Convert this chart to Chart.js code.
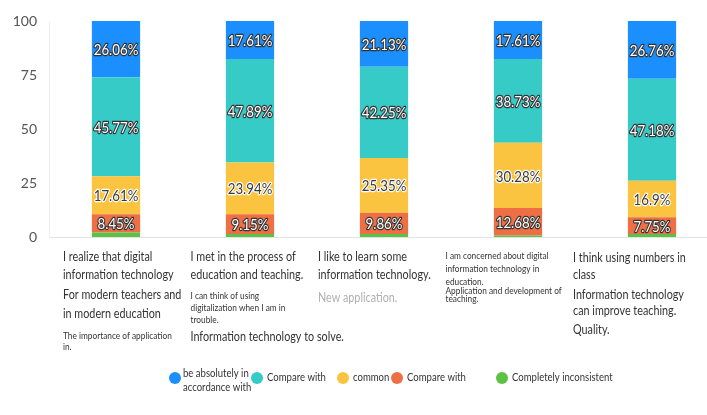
<!DOCTYPE html>
<html>
<head>
<meta charset="utf-8">
<script src="https://cdn.jsdelivr.net/npm/chart.js@4/dist/chart.umd.min.js"></script>
<style>
  html, body { margin: 0; padding: 0; background: #fff; }
  #wrap { width: 707px; height: 415px; overflow: hidden; }
  #inner { width: 719px; height: 415px; position: relative; }
</style>
</head>
<body>
<div id="wrap"><div id="inner"><canvas id="surveyChart"></canvas></div></div>
<script>
// survey answers, percent of respondents per statement
const categories = ['Q1', 'Q2', 'Q3', 'Q4', 'Q5'];
const fullyAgree    = [26.06, 17.61, 21.13, 17.61, 26.76];
const agree         = [45.77, 47.89, 42.25, 38.73, 47.18];
const neutral       = [17.61, 23.94, 25.35, 30.28, 16.9];
const disagree      = [8.45, 9.15, 9.86, 12.68, 7.75];
const fullyDisagree = [2.11, 1.41, 1.41, 0.70, 1.41];
const yTicks = [0, 25, 50, 75, 100];

const seriesNames = [
  ['be absolutely in', 'accordance with'],
  ['Compare with'],
  ['common'],
  ['Compare with'],
  ['Completely inconsistent']
];

// statement text under each bar, one entry per line
const categoryText = [
  ['I realize that digital', 'information technology', 'For modern teachers and', 'in modern education', 'The importance of application', 'in.'],
  ['I met in the process of', 'education and teaching.', 'I can think of using', 'digitalization when I am in', 'trouble.', 'Information technology to solve.'],
  ['I like to learn some', 'information technology.', 'New application.'],
  ['I am concerned about digital', 'information technology in', 'education.', 'Application and development of', 'teaching.'],
  ['I think using numbers in', 'class', 'Information technology', 'can improve teaching.', 'Quality.']
];

const COLORS = ['#1a8ffd', '#37cbc8', '#fbc440', '#ef6f45', '#5cc246'];
const FONT = 'Lato, "Open Sans", sans-serif';
const SQUEEZE = 0.83; // narrow the text a little, closer to a condensed face

// [y, font size, colour] for each line of categoryText
const lineLayout = [
  [[257, 13], [275, 13], [295, 13], [314, 13], [336, 10], [347, 10]],
  [[257, 13], [275, 13], [296, 10], [308, 10], [320, 10], [337, 13]],
  [[257, 13], [275, 13], [298, 13, '#b0b0b0']],
  [[256, 10], [269, 10], [282, 10], [291, 10], [299, 10]],
  [[258, 13], [275, 13], [295, 13], [311, 13], [330, 13]]
];

function narrowText(ctx, txt, x, y, outline) {
  ctx.save();
  ctx.translate(x, y);
  ctx.scale(SQUEEZE, 1);
  if (outline) ctx.strokeText(txt, 0, 0);
  ctx.fillText(txt, 0, 0);
  ctx.restore();
}

// percentage text in the middle of each segment
const segmentLabels = {
  id: 'segmentLabels',
  afterDatasetsDraw(chart) {
    const ctx = chart.ctx;
    ctx.save();
    ctx.font = '16px ' + FONT;
    ctx.textAlign = 'center';
    ctx.textBaseline = 'middle';
    ctx.lineJoin = 'round';
    ctx.lineWidth = 2.5;
    chart.data.datasets.forEach((ds, di) => {
      if (ds.noLabel) return;
      const meta = chart.getDatasetMeta(di);
      meta.data.forEach((bar, i) => {
        const txt = ds.data[i] + '%';
        const y = (bar.y + bar.base) / 2;
        if (ds.darkText) {
          ctx.strokeStyle = '#ffffff';
          ctx.fillStyle = '#3a3a3a';
        } else {
          ctx.strokeStyle = '#333333';
          ctx.fillStyle = '#ffffff';
        }
        narrowText(ctx, txt, bar.x, y + 1, true);
      });
    });
    ctx.restore();
  }
};

// statement blocks and legend below the plot
const bottomText = {
  id: 'bottomText',
  afterDraw(chart) {
    const ctx = chart.ctx;
    ctx.save();
    ctx.textAlign = 'left';
    ctx.textBaseline = 'middle';
    categoryText.forEach((lines, i) => {
      const left = 63 + i * 127.5;
      lines.forEach((line, j) => {
        const [y, size, color] = lineLayout[i][j];
        ctx.font = size + 'px ' + FONT;
        ctx.fillStyle = color || '#333333';
        narrowText(ctx, line, left, y);
      });
    });

    const legendX = [175, 257, 343, 397, 502];
    ctx.font = '11.5px ' + FONT;
    seriesNames.forEach((name, k) => {
      const cx = legendX[k];
      ctx.fillStyle = COLORS[k];
      ctx.beginPath();
      ctx.arc(cx, 378, 6, 0, Math.PI * 2);
      ctx.fill();
      ctx.fillStyle = '#333333';
      if (name.length > 1) {
        narrowText(ctx, name[0], cx + 8, 373);
        narrowText(ctx, name[1], cx + 8, 387);
      } else {
        narrowText(ctx, name[0], cx + 10, 377);
      }
    });
    ctx.restore();
  }
};

new Chart(document.getElementById('surveyChart'), {
  type: 'bar',
  data: {
    labels: categories,
    datasets: [
      { label: seriesNames[4].join(' '), data: fullyDisagree, backgroundColor: COLORS[4], noLabel: true },
      { label: seriesNames[3].join(' '), data: disagree, backgroundColor: COLORS[3] },
      { label: seriesNames[2].join(' '), data: neutral, backgroundColor: COLORS[2], darkText: true },
      { label: seriesNames[1].join(' '), data: agree, backgroundColor: COLORS[1] },
      { label: seriesNames[0].join(' '), data: fullyAgree, backgroundColor: COLORS[0] }
    ]
  },
  options: {
    responsive: true,
    maintainAspectRatio: false,
    animation: false,
    layout: { padding: { top: 21, right: 0, bottom: 0, left: 0 } },
    datasets: { bar: { categoryPercentage: 1, barPercentage: 0.36 } },
    plugins: { legend: { display: false }, tooltip: { enabled: false } },
    scales: {
      x: {
        stacked: true,
        grid: { display: false },
        border: { color: '#e2e2e2' },
        ticks: { display: false },
        afterFit(scale) { scale.height = 178; }
      },
      y: {
        stacked: true,
        min: 0,
        max: 100,
        grid: { display: false },
        border: { color: '#f0f0f0' },
        afterBuildTicks(scale) { scale.ticks = yTicks.map(v => ({ value: v })); },
        ticks: { color: '#555555', font: { size: 14, family: FONT }, padding: 4 },
        afterFit(scale) { scale.width = 49; }
      }
    }
  },
  plugins: [segmentLabels, bottomText]
});
</script>
</body>
</html>
